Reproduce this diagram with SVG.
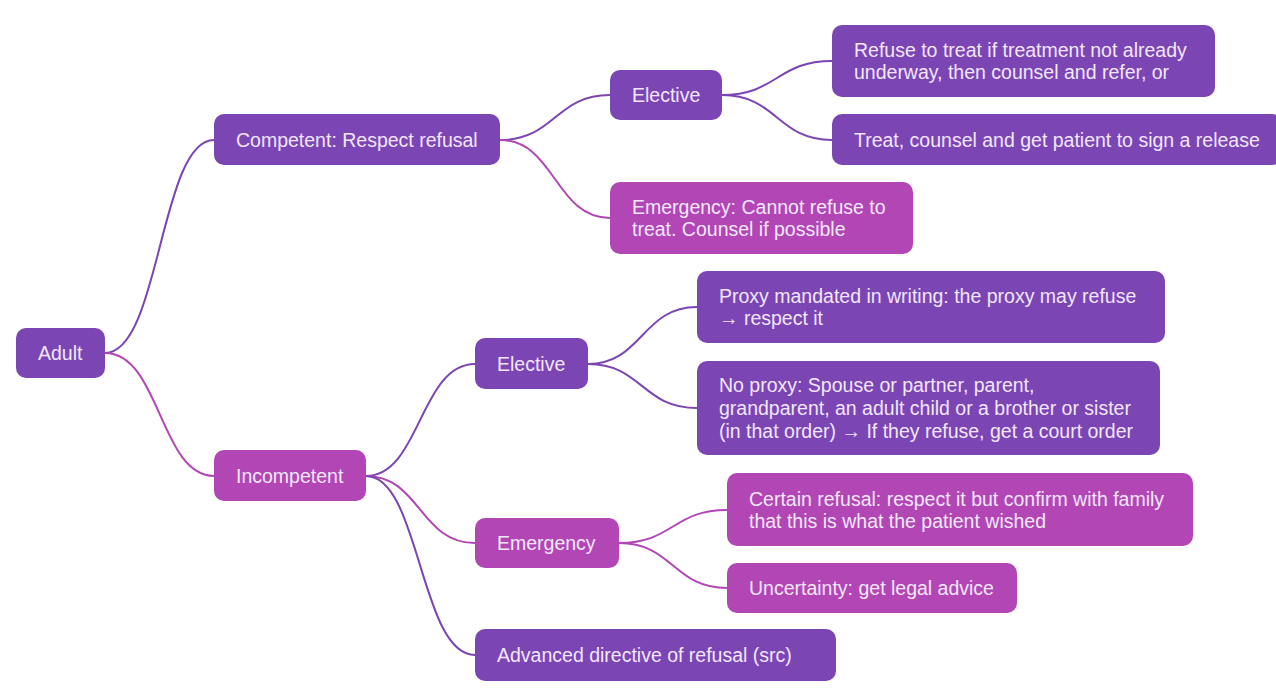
<svg xmlns="http://www.w3.org/2000/svg" width="1276" height="697" viewBox="0 0 1276 697">
<style>
.p{fill:#7b45b3}
.m{fill:#b146b4}
.t{font-family:"Liberation Sans",Arial,sans-serif;font-size:19.5px;fill:#f2e6ff}
.cp{fill:none;stroke:#7b45b3;stroke-width:2}
.cm{fill:none;stroke:#b146b4;stroke-width:2}
</style>
<rect width="1276" height="697" fill="#ffffff"/>
<g id="connectors">
<path class="cp" d="M105,353 C160,353 160,140 214,140"/>
<path class="cm" d="M105,353 C160,353 160,476 214,476"/>
<path class="cp" d="M500,140 C555,140 555,95 610,95"/>
<path class="cm" d="M500,140 C555,140 555,218 610,218"/>
<path class="cp" d="M722,95 C777,95 777,61 832,61"/>
<path class="cp" d="M722,95 C777,95 777,140 832,140"/>
<path class="cp" d="M366,476 C420,476 420,364 475,364"/>
<path class="cm" d="M366,476 C420,476 420,543 475,543"/>
<path class="cp" d="M366,476 C420,476 420,655 475,655"/>
<path class="cp" d="M588,364 C642,364 642,307 697,307"/>
<path class="cp" d="M588,364 C642,364 642,408 697,408"/>
<path class="cm" d="M619,543 C673,543 673,510 727,510"/>
<path class="cm" d="M619,543 C673,543 673,588 727,588"/>
</g>
<g id="adult"><rect class="p" x="16" y="328" width="89" height="50" rx="10"/><text class="t" x="38" y="360">Adult</text></g>
<g id="competent"><rect class="p" x="214" y="114" width="286" height="51" rx="10"/><text class="t" x="236" y="147">Competent: Respect refusal</text></g>
<g id="incompetent"><rect class="m" x="214" y="450" width="152" height="51" rx="10"/><text class="t" x="236" y="483">Incompetent</text></g>
<g id="elective1"><rect class="p" x="610" y="70" width="112" height="50" rx="10"/><text class="t" x="632" y="102">Elective</text></g>
<g id="emergency1"><rect class="m" x="610" y="182" width="303" height="72" rx="10"/><text class="t" x="632" y="214">Emergency: Cannot refuse to</text><text class="t" x="632" y="236">treat. Counsel if possible</text></g>
<g id="refuse"><rect class="p" x="832" y="25" width="383" height="72" rx="10"/><text class="t" x="854" y="57">Refuse to treat if treatment not already</text><text class="t" x="854" y="79">underway, then counsel and refer, or</text></g>
<g id="treat"><rect class="p" x="832" y="114" width="450" height="51" rx="10"/><text class="t" x="854" y="147">Treat, counsel and get patient to sign a release</text></g>
<g id="elective2"><rect class="p" x="475" y="338" width="113" height="51" rx="10"/><text class="t" x="497" y="371">Elective</text></g>
<g id="proxy"><rect class="p" x="697" y="271" width="468" height="72" rx="10"/><text class="t" x="719" y="303">Proxy mandated in writing: the proxy may refuse</text><text class="t" x="719" y="325">→ respect it</text></g>
<g id="noproxy"><rect class="p" x="697" y="361" width="463" height="94" rx="10"/><text class="t" x="719" y="392">No proxy: Spouse or partner, parent,</text><text class="t" x="719" y="415">grandparent, an adult child or a brother or sister</text><text class="t" x="719" y="438">(in that order) → If they refuse, get a court order</text></g>
<g id="emergency2"><rect class="m" x="475" y="518" width="144" height="50" rx="10"/><text class="t" x="497" y="550">Emergency</text></g>
<g id="certain"><rect class="m" x="727" y="473" width="466" height="73" rx="10"/><text class="t" x="749" y="506">Certain refusal: respect it but confirm with family</text><text class="t" x="749" y="528">that this is what the patient wished</text></g>
<g id="uncertainty"><rect class="m" x="727" y="563" width="290" height="50" rx="10"/><text class="t" x="749" y="595">Uncertainty: get legal advice</text></g>
<g id="advanced"><rect class="p" x="475" y="629" width="361" height="52" rx="10"/><text class="t" x="497" y="662">Advanced directive of refusal (src)</text></g>
</svg>
